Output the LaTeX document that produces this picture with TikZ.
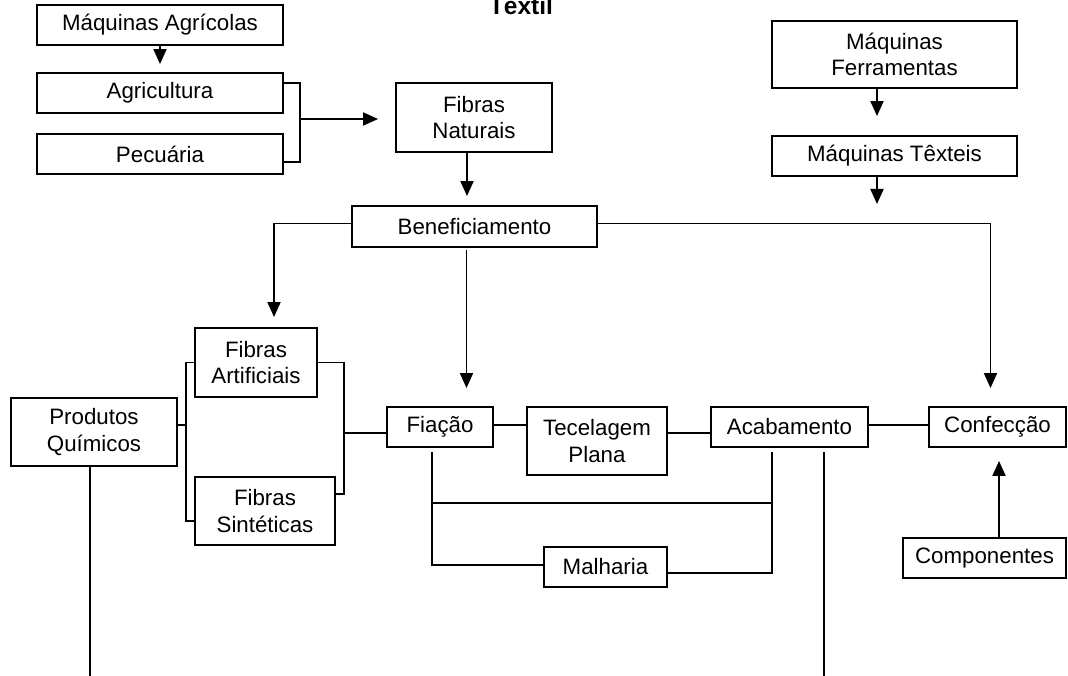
\documentclass[tikz,border=0pt]{standalone}
\usepackage{fontspec}
\setmainfont{Liberation Sans}
\usetikzlibrary{arrows.meta}

\tikzset{
  caixa/.style={draw, line width=1.9pt, inner sep=0pt, align=center,
    font=\fontsize{22.3}{26.5}\selectfont},
  seta/.style={-{Triangle[width=13pt,length=15pt]}}
}

\begin{document}
\begin{tikzpicture}[x=1pt,y=-1pt,line width=1.9pt]
\useasboundingbox (0,0) rectangle (1068,676);
\node[font=\fontsize{24.5}{28}\selectfont\bfseries, anchor=base] (titulo) at (521,15) {Têxtil};
\node[caixa, minimum width=246pt, minimum height=40pt] (maqagr) at (160,25) {Máquinas Agrícolas};
\node[caixa, minimum width=246pt, minimum height=40pt] (agric) at (160,93) {Agricultura};
\node[caixa, minimum width=246pt, minimum height=40pt] (pecu) at (160,154) {Pecuária};
\node[caixa, minimum width=156pt, minimum height=69pt] (fibnat) at (474,117.5) {Fibras\\Naturais};
\node[caixa, minimum width=245pt, minimum height=67pt] (maqfer) at (894.5,54.5) {Máquinas\\Ferramentas};
\node[caixa, minimum width=245pt, minimum height=40pt] (maqtex) at (894.5,156) {Máquinas Têxteis};
\node[caixa, minimum width=245pt, minimum height=41pt] (benef) at (474.5,226.5) {Beneficiamento};
\node[caixa, minimum width=122pt, minimum height=69pt] (fibart) at (256,362.5) {Fibras\\Artificiais};
\node[caixa, minimum width=140pt, minimum height=68pt] (fibsin) at (265,511) {Fibras\\Sintéticas};
\node[caixa, minimum width=166pt, minimum height=68pt] (prodq) at (94,432) {Produtos\\Químicos};
\node[caixa, minimum width=106pt, minimum height=40pt] (fiacao) at (440,427) {Fiação};
\node[caixa, minimum width=140pt, minimum height=68pt] (tecel) at (597,441) {Tecelagem\\Plana};
\node[caixa, minimum width=157pt, minimum height=40pt] (acab) at (789.5,427) {Acabamento};
\node[caixa, minimum width=137pt, minimum height=40pt] (confec) at (997.5,427) {Confecção};
\node[caixa, minimum width=123pt, minimum height=40pt] (malh) at (605.5,567) {Malharia};
\node[caixa, minimum width=163pt, minimum height=40pt] (compon) at (984.5,558) {Componentes};
\coordinate (jagr) at (300,119);
\coordinate (maqfim) at (877,204);
\coordinate (jq) at (186,425);
\coordinate (jf) at (344,433);
\coordinate (ramo1) at (432,503);
\coordinate (ramo2) at (772,503);
\coordinate (fimq) at (90,676);
\coordinate (fima) at (824,676);
\draw[seta, shorten >=8pt] (maqagr) -- (agric);
\draw ([yshift=10pt]agric.east) -| (jagr) |- ([yshift=-8pt]pecu.east);
\draw[seta, shorten >=17pt] (jagr) -- (jagr -| fibnat.west);
\draw[seta, shorten >=9pt] ([xshift=-7pt]fibnat.south) -- ([xshift=-7pt]fibnat.south |- benef.north);
\draw[seta, shorten >=19pt] ([xshift=-17.5pt]maqfer.south) -- ([xshift=-17.5pt]maqtex.north);
\draw[seta] ([xshift=-17.5pt]maqtex.south) -- (maqfim);
\draw[seta, shorten >=10pt] ([yshift=3pt]benef.west) -| ([xshift=18pt]fibart.north);
\draw[seta, shorten >=18pt] ([xshift=-8pt,yshift=-2pt]benef.south) -- ([xshift=-8pt]benef.south |- fiacao.north);
\draw[seta, shorten >=18pt] ([yshift=3pt]benef.east) -| ([xshift=-7pt]confec.north);
\draw ([yshift=7pt]prodq.east) -- (jq);
\draw (fibart.west) -| (jq) |- ([yshift=-10pt]fibsin.west);
\draw (fibart.east) -| (jf) |- ([yshift=17pt]fibsin.east);
\draw (jf) -- (jf -| fiacao.west);
\draw ([yshift=2pt]fiacao.east) -- ([yshift=2pt]fiacao.east -| tecel.west);
\draw ([yshift=8pt]tecel.east) -- ([yshift=8pt]tecel.east -| acab.west);
\draw ([yshift=2pt]acab.east) -- ([yshift=2pt]acab.east -| confec.west);
\draw[seta, shorten >=13pt] ([xshift=14.5pt]compon.north) -- ([xshift=14.5pt]compon.north |- confec.south);
\draw ([xshift=-8pt,yshift=-4pt]fiacao.south) |- ([yshift=2pt]malh.west);
\draw ([xshift=-17.5pt,yshift=-4pt]acab.south) |- ([yshift=-6pt]malh.east);
\draw (ramo1) -- (ramo2);
\draw ([xshift=-4pt]prodq.south) -- (fimq);
\draw ([xshift=34.5pt,yshift=-4pt]acab.south) -- (fima);
\end{tikzpicture}
\end{document}
